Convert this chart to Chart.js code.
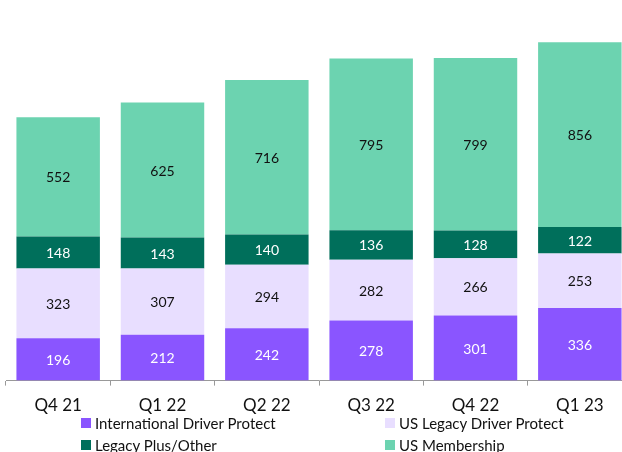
<!DOCTYPE html>
<html>
<head>
<meta charset="utf-8">
<script src="https://cdn.jsdelivr.net/npm/chart.js@4/dist/chart.umd.min.js"></script>
<style>
    html, body { margin: 0; padding: 0; background: #fff; overflow: hidden; width: 622px; height: 452px; }
    #wrap { position: relative; width: 632px; height: 426px; }
    #legend { position: absolute; left: 81px; top: 414px; width: 540px; font-family: Lato, sans-serif; font-size: 15px; color: #111;
        display: grid; grid-template-columns: 304px 230px; row-gap: 4px; }
    #legend .item { display: flex; align-items: center; height: 18px; white-space: nowrap; }
    #legend .box { width: 10px; height: 10px; margin-right: 4px; flex: none; }
</style>
</head>
<body>
<div id="wrap"><canvas id="chart"></canvas></div>
<div id="legend"></div>
<script>
// quarters on the x axis
const quarters = ["Q4 21", "Q1 22", "Q2 22", "Q3 22", "Q4 22", "Q1 23"];

// stacked series, bottom to top
const intlDriverProtect = [196, 212, 242, 278, 301, 336];
const usLegacyDriverProtect = [323, 307, 294, 282, 266, 253];
const legacyPlusOther = [148, 143, 140, 136, 128, 122];
const usMembership = [552, 625, 716, 795, 799, 856];

const seriesNames = ["International Driver Protect", "US Legacy Driver Protect", "Legacy Plus/Other", "US Membership"];
const seriesColors = ["#8a55ff", "#e8deff", "#006f5b", "#6cd3b0"];
const labelColors = ["#ffffff", "#111111", "#ffffff", "#111111"];

const FONT = "Lato, sans-serif";

// draw the value in the middle of each segment
const segmentLabels = {
    id: "segmentLabels",
    afterDatasetsDraw(chart) {
        let ctx = chart.ctx;
        ctx.save();
        ctx.font = "14px " + FONT;
        ctx.textAlign = "center";
        ctx.textBaseline = "middle";
        chart.data.datasets.forEach((ds, i) => {
            let meta = chart.getDatasetMeta(i);
            meta.data.forEach((bar, j) => {
                let mid = (bar.y + bar.base) / 2;
                ctx.fillStyle = labelColors[i];
                ctx.fillText(String(ds.data[j]), bar.x, mid + 1);
            });
        });
        ctx.restore();
    }
};

let datasets = [intlDriverProtect, usLegacyDriverProtect, legacyPlusOther, usMembership].map((values, i) => ({
    label: seriesNames[i],
    data: values,
    backgroundColor: seriesColors[i],
    borderWidth: 0,
    categoryPercentage: 0.8,
    barPercentage: 1
}));

new Chart(document.getElementById("chart"), {
    type: "bar",
    data: { labels: quarters, datasets: datasets },
    options: {
        responsive: true,
        maintainAspectRatio: false,
        animation: false,
        layout: { padding: { top: 35, left: 6, right: 0, bottom: 0 } },
        plugins: {
            legend: { display: false },
            tooltip: { enabled: false }
        },
        scales: {
            x: {
                stacked: true,
                grid: { offset: true, drawOnChartArea: false, drawTicks: true, tickLength: 5, color: "#999" },
                border: { display: true, color: "#999", width: 1 },
                ticks: { color: "#111", padding: 10, font: { family: FONT, size: 17 }, maxRotation: 0 }
            },
            y: {
                stacked: true,
                display: false,
                min: 0,
                max: 1600
            }
        }
    },
    plugins: [segmentLabels]
});

// two-column legend under the axis
let legend = document.getElementById("legend");
seriesNames.forEach((name, i) => {
    let item = document.createElement("div");
    item.className = "item";
    item.innerHTML = `<span class="box" style="background:${seriesColors[i]}"></span><span>${name}</span>`;
    legend.appendChild(item);
});
</script>
</body>
</html>
